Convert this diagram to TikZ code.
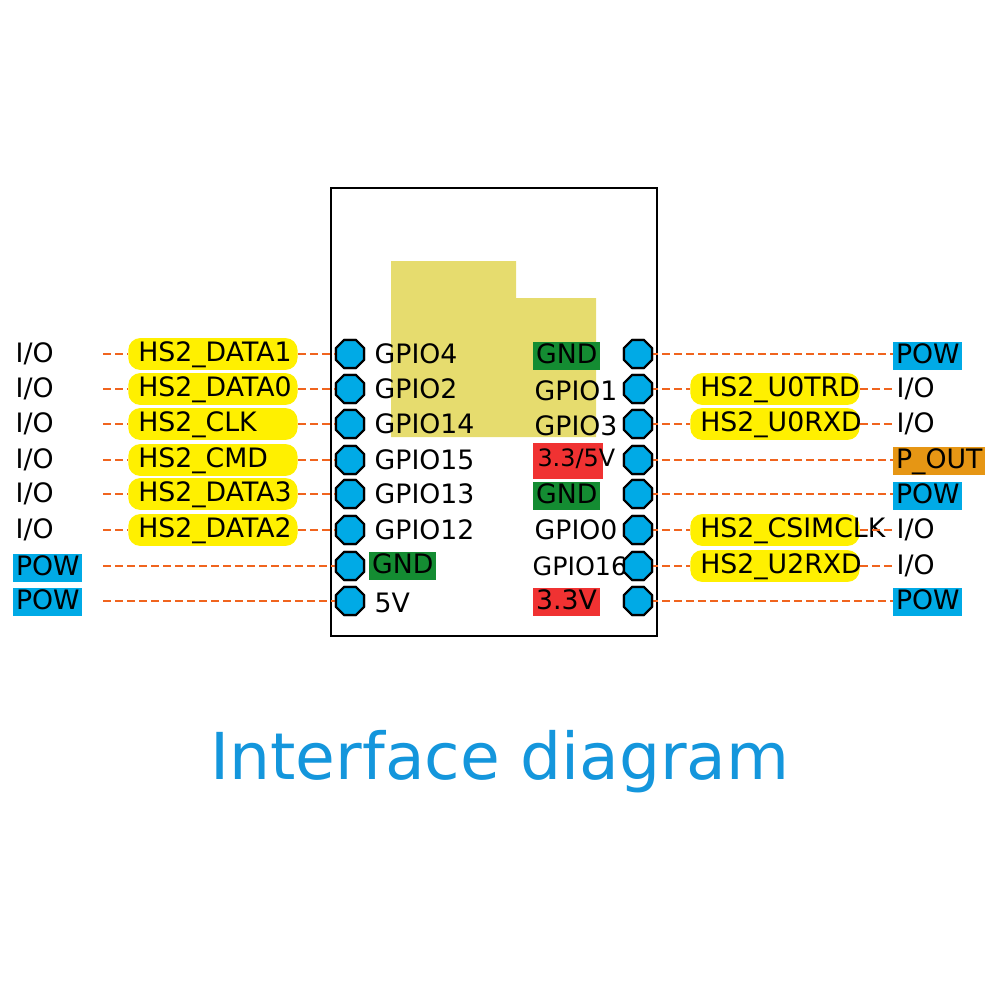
\documentclass[tikz,border=0pt]{standalone}
\usepackage{fontspec}
\setmainfont{DejaVu Sans}
\usetikzlibrary{shapes.geometric}
\definecolor{kBlue}{RGB}{0,170,230}
\definecolor{kYellow}{RGB}{255,240,0}
\definecolor{kPad}{RGB}{230,220,110}
\definecolor{kGreen}{RGB}{20,140,50}
\definecolor{kRed}{RGB}{240,50,50}
\definecolor{kOrange}{RGB}{230,150,20}
\definecolor{kWire}{RGB}{240,100,30}
\definecolor{kTitle}{RGB}{20,150,220}
\tikzset{
  pin/.style={regular polygon,regular polygon sides=8,draw=black,line width=1.6pt,fill=kBlue,minimum size=7.6mm,inner sep=0pt},
  pill/.style={rounded corners=3mm,fill=kYellow,minimum height=7mm,inner xsep=2.5mm,text width=37.3mm,text height=13pt,text depth=3pt,font=\fontsize{19}{22}\selectfont},
  wire/.style={draw=kWire,line width=2pt,dash pattern=on 2mm off 1mm},
  txt/.style={inner sep=1pt,font=\fontsize{19}{22}\selectfont},
  tag/.style={txt,fill=#1,inner sep=2pt,text height=13pt,text depth=3pt}
}
\begin{document}
\begin{tikzpicture}[x=0.025cm,y=-0.025cm]
  \useasboundingbox (0,0) rectangle (1000,1000);
  % board
  \draw[line width=1.6pt] (331,188) rectangle (657,636);
  \fill[kPad] (391,261) -- (516,261) -- (516,298) -- (596,298) -- (596,437) -- (391,437) -- cycle;

  % left side
  \foreach \n/\y/\g/\s in {a/354/GPIO4/HS2\_DATA1,b/389/GPIO2/HS2\_DATA0,c/424/GPIO14/HS2\_CLK,d/460/GPIO15/HS2\_CMD,e/494/GPIO13/HS2\_DATA3,f/530/GPIO12/HS2\_DATA2} {
    \node[pin] (l\n) at (350,\y) {};
    \node[txt,anchor=west] at (373,\y) {\g};
    \node[pill,anchor=west] (s\n) at (128,\y) {\s};
    \node[txt,anchor=west] (t\n) at (14,\y) {I/O};
    \coordinate (w\n) at (103,\y);
    \draw[wire] (w\n) -- (s\n.west);
    \draw[wire] (s\n.east) -- (l\n.center);
  }
  \node[pin] (lg) at (350,566) {};
  \node[tag=kGreen,anchor=west] at (369,566) {GND};
  \node[tag=kBlue,anchor=west] (tg) at (13,568) {POW};
  \node[pin] (lv) at (350,601) {};
  \node[txt,anchor=west] at (373,603) {5V};
  \node[tag=kBlue,anchor=west] (tv) at (13,602) {POW};
  \coordinate (wg) at (103,566);
  \coordinate (wv) at (103,601);
  \draw[wire] (wg) -- (lg.center);
  \draw[wire] (wv) -- (lv.center);

  % right side
  \foreach \n/\y in {a/354,b/389,c/424,d/460,e/494,f/530,g/566,h/601}
    \node[pin] (r\n) at (638,\y) {};
  \node[tag=kGreen,anchor=west] at (533,356) {GND};
  \node[txt,anchor=west] at (533,391) {GPIO1};
  \node[txt,anchor=west] at (533,426) {GPIO3};
  \node[txt,anchor=west,inner sep=0pt,font=\fontsize{17}{20}\selectfont] at (533,461) {\colorbox{kRed}{\strut 3.3/5}\hspace{-3pt}V};
  \node[tag=kGreen,anchor=west] at (533,496) {GND};
  \node[txt,anchor=west] at (533,530) {GPIO0};
  \node[txt,anchor=west,font=\fontsize{18}{20}\selectfont] at (531,566) {GPIO16};
  \node[tag=kRed,anchor=west] at (533,602) {3.3V};

  \foreach \n/\s in {b/HS2\_U0TRD,c/HS2\_U0RXD,f/HS2\_CSIMCLK,g/HS2\_U2RXD} {
    \node[pill,anchor=west] (p\n) at (690,0 |- r\n) {\s};
    \node[txt,anchor=west] (q\n) at (895,0 |- r\n) {I/O};
    \draw[wire] (r\n.center) -- (p\n.west);
    \draw[wire] (p\n.east) -- (q\n.west);
  }
  \node[tag=kBlue,anchor=west] (qa) at (893,356) {POW};
  \node[tag=kOrange,anchor=west] (qd) at (893,461) {P\_OUT};
  \node[tag=kBlue,anchor=west] (qe) at (893,496) {POW};
  \node[tag=kBlue,anchor=west] (qh) at (893,602) {POW};
  \foreach \n in {a,d,e,h}
    \draw[wire] (r\n.center) -- (q\n.west |- r\n);

  % pins on top of wires
  \foreach \n in {a,b,c,d,e,f,g,h}
    \node[pin] at (r\n) {};
  \foreach \n in {la,lb,lc,ld,le,lf,lg,lv}
    \node[pin] at (\n) {};

  \node[text=kTitle,font=\fontsize{46}{52}\selectfont] (title) at (500,762) {Interface diagram};
\end{tikzpicture}
\end{document}
